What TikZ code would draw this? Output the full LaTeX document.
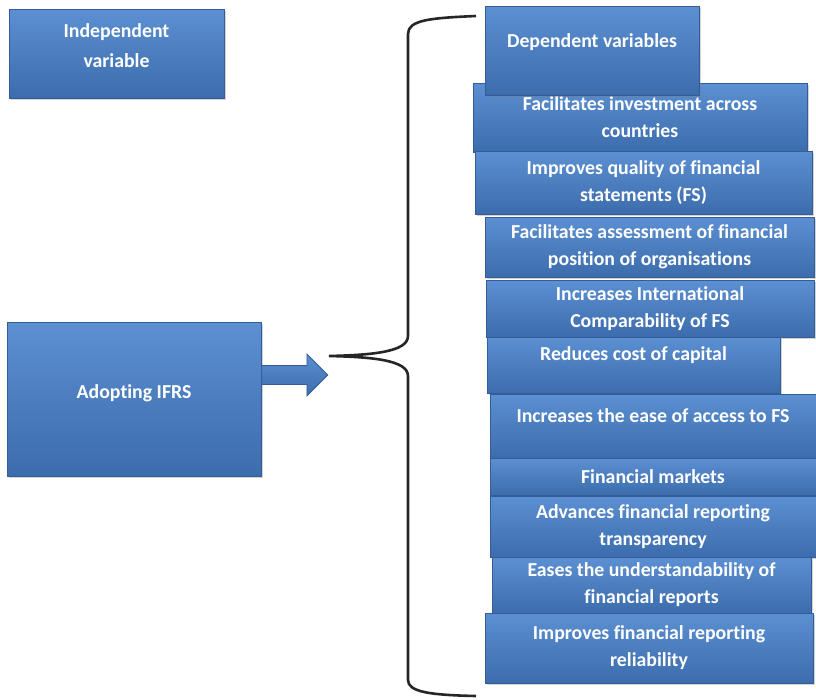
\documentclass[tikz,border=0pt]{standalone}
\usepackage{fontspec}
\setmainfont{Carlito}[Ligatures=NoCommon]
\usetikzlibrary{shapes.arrows,shadows}
\definecolor{boxtop}{RGB}{92,144,210}
\definecolor{boxbot}{RGB}{60,108,172}
\definecolor{boxline}{RGB}{52,92,150}
\tikzset{
	varbox/.style = {rectangle, draw=boxline, line width=0.8pt, top color=boxtop, bottom color=boxbot,
		text=white, align=center, inner sep=2pt, font=\bfseries\fontsize{19.8}{27}\selectfont,
		drop shadow={shadow xshift=1.5pt, shadow yshift=-1.5pt, opacity=0.35}},
	toptext/.style = {text depth=#1},
	bracket/.style = {line width=2.6pt, black!85}
}
\begin{document}
\begin{tikzpicture}[x=1pt, y=-1pt]
	\useasboundingbox (0,0) rectangle (816,699);
	% independent side
	\node [varbox, minimum width=215pt, minimum height=89pt, toptext=16pt, font=\bfseries\fontsize{19.8}{30}\selectfont] (indep) at (116.5,53.5) {Independent\\variable};
	\node [varbox, minimum width=254pt, minimum height=154pt, toptext=14pt] (ifrs) at (134,399) {Adopting IFRS};
	% dependent side
	\node [varbox, minimum width=334pt, minimum height=69pt] (fi) at (640,117.5) {Facilitates investment across\\countries};
	\node [varbox, minimum width=214pt, minimum height=89pt, toptext=20pt] (dep) at (592,50.5) {Dependent variables};
	\node [varbox, minimum width=337pt, minimum height=63pt] (iq) at (643.5,182.5) {Improves quality of financial\\statements (FS)};
	\node [varbox, minimum width=329pt, minimum height=60pt] (fa) at (649.5,247) {Facilitates assessment of financial\\position of organisations};
	\node [varbox, minimum width=328pt, minimum height=57pt] (ic) at (650,308.5) {Increases International\\Comparability of FS};
	\node [varbox, minimum width=293pt, minimum height=56pt, toptext=22pt] (rc) at (633.5,365) {Reduces cost of capital};
	\node [varbox, minimum width=326pt, minimum height=64pt, toptext=20pt] (ie) at (653,426) {Increases the ease of access to FS};
	\node [varbox, minimum width=326pt, minimum height=37pt] (fm) at (653,476.5) {Financial markets};
	\node [varbox, minimum width=326pt, minimum height=61pt, toptext=2pt] (ad) at (653,526.5) {Advances financial reporting\\transparency};
	\node [varbox, minimum width=319pt, minimum height=56pt] (eu) at (651.5,585) {Eases the understandability of\\financial reports};
	\node [varbox, minimum width=328pt, minimum height=70pt] (ir) at (649,648) {Improves financial reporting\\reliability};
	% arrow and brace
	\coordinate (tip) at (329,356);
	\coordinate (brtop) at (476,16);
	\coordinate (brbot) at (476,696);
	\node [single arrow, draw=boxline, line width=0.8pt, top color=boxtop, bottom color=boxbot,
		inner sep=0pt, text height=9pt, text depth=9pt, minimum height=66pt, single arrow head extend=11.5pt,
		single arrow head indent=0pt, anchor=tail] (arr) at (ifrs.east |- 0,375) {};
	\draw [bracket] (brtop) .. controls (430,18) and (408,20) .. (408,34) -- (408,336)
		.. controls (408,352) and (372,355) .. (tip)
		.. controls (372,357) and (408,360) .. (408,376) -- (408,680)
		.. controls (408,692) and (430,695) .. (brbot);
\end{tikzpicture}
\end{document}
